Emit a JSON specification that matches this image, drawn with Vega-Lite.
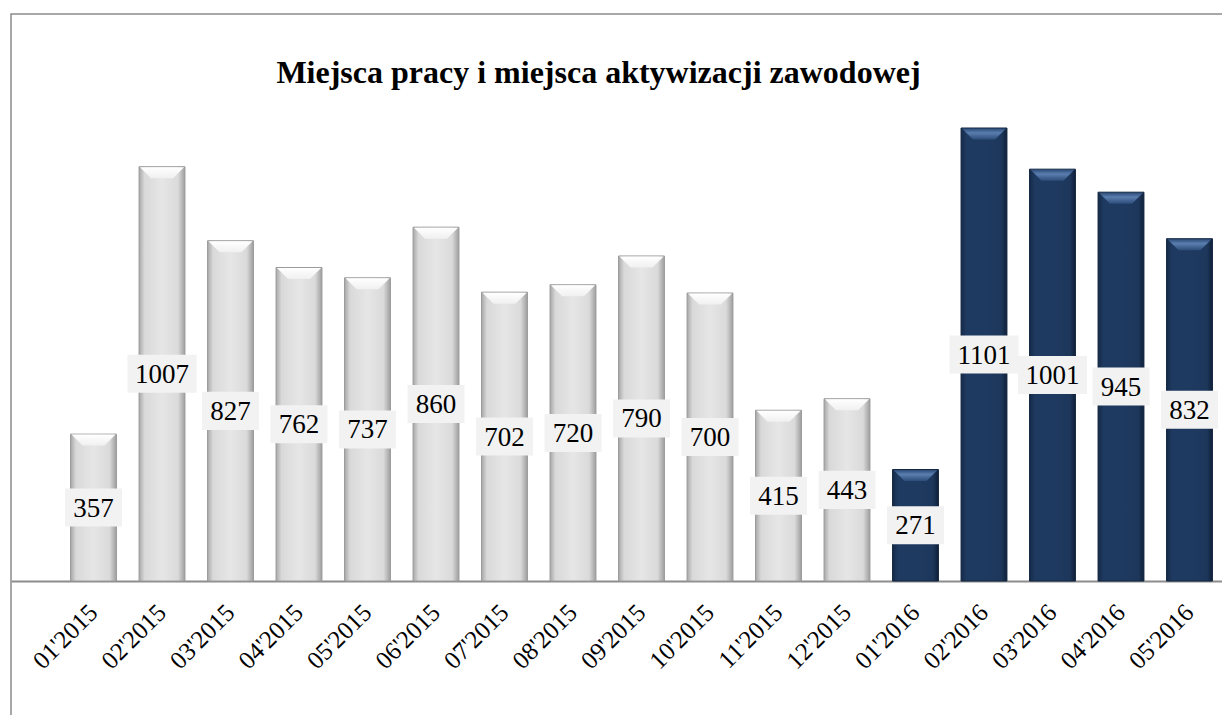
{
  "$schema": "https://vega.github.io/schema/vega-lite/v6.json",
  "autosize": {"type": "none"},
  "padding": {"left": 11, "top": 14, "right": -2, "bottom": -2},
  "width": 1213,
  "height": 703,
  "background": "white",
  "config": {
    "view": {"stroke": "#8c8c8c", "strokeWidth": 1.5},
    "font": "Liberation Serif"
  },
  "title": {
    "text": "Miejsca pracy i miejsca aktywizacji zawodowej",
    "font": "Liberation Serif",
    "fontSize": 32,
    "fontWeight": "bold",
    "color": "#000000",
    "anchor": "middle",
    "frame": "group",
    "baseline": "alphabetic",
    "offset": 0,
    "dy": 101,
    "dx": -19
  },
  "data": {
    "values": [
      {"month": "01'2015", "value": 357, "year": "2015"},
      {"month": "02'2015", "value": 1007, "year": "2015"},
      {"month": "03'2015", "value": 827, "year": "2015"},
      {"month": "04'2015", "value": 762, "year": "2015"},
      {"month": "05'2015", "value": 737, "year": "2015"},
      {"month": "06'2015", "value": 860, "year": "2015"},
      {"month": "07'2015", "value": 702, "year": "2015"},
      {"month": "08'2015", "value": 720, "year": "2015"},
      {"month": "09'2015", "value": 790, "year": "2015"},
      {"month": "10'2015", "value": 700, "year": "2015"},
      {"month": "11'2015", "value": 415, "year": "2015"},
      {"month": "12'2015", "value": 443, "year": "2015"},
      {"month": "01'2016", "value": 271, "year": "2016"},
      {"month": "02'2016", "value": 1101, "year": "2016"},
      {"month": "03'2016", "value": 1001, "year": "2016"},
      {"month": "04'2016", "value": 945, "year": "2016"},
      {"month": "05'2016", "value": 832, "year": "2016"}
    ]
  },
  "transform": [{"calculate": "datum.value / 2", "as": "mid"}],
  "encoding": {
    "x": {
      "field": "month",
      "type": "ordinal",
      "sort": null,
      "scale": {"paddingInner": 0.33, "paddingOuter": 0.519, "align": 0.8376},
      "axis": {
        "title": null,
        "offset": -136,
        "domain": true,
        "domainColor": "#8c8c8c",
        "domainWidth": 2,
        "ticks": false,
        "labelAngle": -45,
        "labelAlign": "right",
        "labelBaseline": "middle",
        "labelPadding": 27,
        "labelFont": "Liberation Serif",
        "labelFontSize": 25,
        "labelColor": "#000000"
      }
    },
    "y": {
      "field": "value",
      "type": "quantitative",
      "scale": {"domain": [-330.5, 1378.1], "nice": false, "zero": false},
      "axis": null
    }
  },
  "layer": [
    {
      "transform": [{"filter": "datum.year == '2015'"}],
      "mark": {
        "type": "bar",
        "stroke": "#9a9a9a",
        "strokeWidth": 1,
        "fill": {
          "gradient": "linear", "x1": 0, "x2": 1, "y1": 0, "y2": 0,
          "stops": [
            {"offset": 0, "color": "#a8a8a8"},
            {"offset": 0.12, "color": "#d9d9d9"},
            {"offset": 0.5, "color": "#e6e6e6"},
            {"offset": 0.85, "color": "#dadada"},
            {"offset": 1, "color": "#9e9e9e"}
          ]
        }
      }
    },
    {
      "transform": [{"filter": "datum.year == '2016'"}],
      "mark": {
        "type": "bar",
        "stroke": "#132640",
        "strokeWidth": 1,
        "fill": {
          "gradient": "linear", "x1": 0, "x2": 1, "y1": 0, "y2": 0,
          "stops": [
            {"offset": 0, "color": "#152a48"},
            {"offset": 0.12, "color": "#1f3a60"},
            {"offset": 0.5, "color": "#1f3a61"},
            {"offset": 0.88, "color": "#1d375b"},
            {"offset": 1, "color": "#0f2038"}
          ]
        }
      }
    },
    {
      "transform": [{"filter": "datum.year == '2015'"}],
      "mark": {
        "type": "point",
        "filled": true,
        "opacity": 1,
        "size": 2107,
        "shape": "M-0.96,0.02 L0.96,0.02 L0.48,0.5 L-0.48,0.5 Z",
        "fill": {
          "gradient": "linear", "x1": 0, "x2": 0, "y1": 0, "y2": 1,
          "stops": [
            {"offset": 0, "color": "#ffffff"},
            {"offset": 1, "color": "#f0f0f0"}
          ]
        }
      }
    },
    {
      "transform": [{"filter": "datum.year == '2016'"}],
      "mark": {
        "type": "point",
        "filled": true,
        "opacity": 1,
        "size": 2107,
        "shape": "M-0.96,0.02 L0.96,0.02 L0.48,0.5 L-0.48,0.5 Z",
        "fill": {
          "gradient": "linear", "x1": 0, "x2": 0, "y1": 0, "y2": 1,
          "stops": [
            {"offset": 0, "color": "#2c4c78"},
            {"offset": 0.4, "color": "#5a7eaf"},
            {"offset": 1, "color": "#2d4d79"}
          ]
        }
      }
    },
    {
      "transform": [{"filter": "datum.value < 1000"}],
      "mark": {
        "type": "point",
        "filled": true,
        "opacity": 1,
        "color": "#f2f2f2",
        "size": 3249,
        "shape": "M-1,-0.667 L1,-0.667 L1,0.667 L-1,0.667 Z"
      },
      "encoding": {"y": {"field": "mid", "type": "quantitative"}}
    },
    {
      "transform": [{"filter": "datum.value >= 1000"}],
      "mark": {
        "type": "point",
        "filled": true,
        "opacity": 1,
        "color": "#f2f2f2",
        "size": 4761,
        "shape": "M-1,-0.551 L1,-0.551 L1,0.551 L-1,0.551 Z"
      },
      "encoding": {"y": {"field": "mid", "type": "quantitative"}}
    },
    {
      "mark": {
        "type": "text",
        "font": "Liberation Serif",
        "fontSize": 27,
        "color": "#000000",
        "baseline": "middle",
        "align": "center",
        "dy": 1
      },
      "encoding": {
        "y": {"field": "mid", "type": "quantitative"},
        "text": {"field": "value", "type": "quantitative", "format": "d"}
      }
    }
  ]
}
